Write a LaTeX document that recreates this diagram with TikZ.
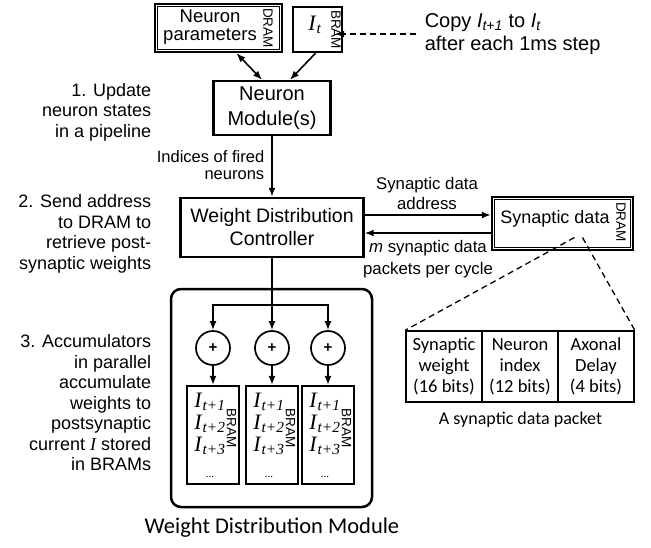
\documentclass[tikz,border=0pt]{standalone}
\usepackage{fontspec}
\setmainfont{Liberation Sans}
\newfontfamily\calib{Carlito}
\newfontfamily\tms{Liberation Serif}
\usetikzlibrary{arrows.meta}

\newcommand\cur[1]{\textit{I}\textsubscript{\textit{#1}}}

\tikzset{
  blk/.style={draw, line width=2.4pt, align=center, inner sep=0pt},
  memlbl/.style={rotate=-90, font=\fontsize{13.5}{14}\selectfont, inner sep=0pt},
  lbl/.style={align=right, anchor=east, font=\fontsize{18}{20.5}\selectfont, inner sep=0pt},
  sum/.style={circle, draw, line width=1.7pt, minimum size=34pt, inner sep=0pt, font=\bfseries\fontsize{15}{15}\selectfont},
  cell/.style={draw, line width=1.5pt, minimum width=76pt, minimum height=71pt, align=center, inner sep=0pt, font=\calib\fontsize{18.5}{21}\selectfont},
}

\begin{document}
\begin{tikzpicture}[x=1pt, y=-1pt, >={Latex[length=9pt,width=7pt]}, line width=1.6pt]
\useasboundingbox (0,0) rectangle (651,547);

\node [blk, minimum width=127pt, minimum height=48pt] (np) at (218.5,28) {};
\draw [line width=1.2pt] ([shift={(4,4)}]np.north west) rectangle ([shift={(-4,-4)}]np.south east);
\node [font=\fontsize{18.5}{17.5}\selectfont, align=center] (nptxt) at (210,27) {Neuron\\parameters};
\node [memlbl] (npmem) at (268,28) {DRAM};

\node [blk, minimum width=49pt, minimum height=45pt] (it) at (317.5,29.5) {};
\node [font=\tms\fontsize{22}{22}\selectfont] (ittxt) at (315,25) {\cur{t}};
\node [memlbl] (itmem) at (336,29.5) {BRAM};

\node [anchor=west, align=left, font=\fontsize{20}{23}\selectfont, inner sep=0pt] (copy) at (424,34) {Copy \cur{t+1} to \cur{t}\\after each 1ms step};
\draw [->, dash pattern=on 6pt off 4pt, line width=1.4pt] ([xshift=-8pt]copy.west) -- ([xshift=-8pt]copy.west -| it.east);

\node [blk, minimum width=117pt, minimum height=54pt, font=\fontsize{20}{24.5}\selectfont] (nm) at (272,108) {Neuron\\Module(s)};
\draw [<->] ([xshift=18pt]np.south) -- ([xshift=-10pt]nm.north);
\draw [->] ([xshift=-2pt]it.south) -- ([xshift=18pt]nm.north);

\node [lbl] (step1) at (152,112) {1. Update\\neuron states\\in a pipeline};

\node [blk, minimum width=183pt, minimum height=59pt, font=\fontsize{19.5}{23}\selectfont] (wdc) at (272,227.5) {Weight Distribution\\Controller};
\draw [->] (nm.south) -- (wdc.north);
\node [font=\fontsize{16.5}{17.5}\selectfont, align=right, anchor=east, inner sep=0pt] (fired) at (265,165) {Indices of fired\\neurons};

\node [lbl] (step2) at (152,234) {2. Send address\\to DRAM to\\retrieve post-\\synaptic weights};

\node [blk, minimum width=141pt, minimum height=53pt] (sd) at (562.5,223.5) {};
\draw [line width=1.2pt] ([shift={(4,4)}]sd.north west) rectangle ([shift={(-4,-4)}]sd.south east);
\node [font=\fontsize{18}{20}\selectfont] (sdtxt) at (555,219) {Synaptic data};
\node [memlbl] (sdmem) at (621,222) {DRAM};

\draw [->] ([yshift=12.5pt]wdc.east) -- ([yshift=12.5pt]wdc.east -| sd.west);
\draw [->] ([yshift=-9.5pt]sd.west) -- ([yshift=-9.5pt]sd.west -| wdc.east);
\node [font=\fontsize{16.8}{20}\selectfont, align=center] (addr) at (427,193) {Synaptic data\\address};
\node [font=\fontsize{16.8}{21.5}\selectfont, align=center] (pkts) at (428,259) {\textit{m} synaptic data\\packets per cycle};

\foreach \n/\x/\t in {pw/444/{Synaptic\\weight\\(16 bits)}, pn/520/{Neuron\\index\\(12 bits)}, pd/596/{Axonal\\Delay\\(4 bits)}}
  \node [cell] (\n) at (\x,366.5) {\t};
\node [font=\calib\fontsize{18}{20}\selectfont] (pktcap) at (520.5,420) {A synaptic data packet};
\draw [dash pattern=on 6pt off 4pt, line width=1.3pt] ([shift={(12,14)}]sd.center) -- (pw.north west);
\draw [dash pattern=on 6pt off 4pt, line width=1.3pt] ([shift={(20,14)}]sd.center) -- (pd.north east);

\node [draw, line width=2.5pt, rounded corners=10pt, minimum width=201pt, minimum height=218pt] (wdm) at (271.5,398) {};
\node [font=\calib\fontsize{22.5}{24}\selectfont] (wdmcap) at (272,528) {Weight Distribution Module};

\coordinate (split) at (272,305);
\foreach \c/\x in {1/213,2/272,3/328} {
  \node [sum] (sum\c) at (\x,348) {+};
  \node [blk, line width=2.2pt, minimum width=52pt, minimum height=98pt] (bram\c) at (\x,435) {};
  \node [font=\tms\fontsize{22}{22}\selectfont, align=center] (cur\c) at (\x-3,435) {\cur{t+1}\\\cur{t+2}\\\cur{t+3}\\[4pt]{\fontsize{11}{11}\selectfont ...}};
  \node [memlbl] (mem\c) at (\x+18.5,428) {BRAM};
  \draw [->] (sum\c.south) -- (bram\c.north);
}
\draw [->] (wdc.south) -- (sum2.north);
\draw [->] (split) -| (sum1.north);
\draw [->] (split) -| (sum3.north);

\node [lbl] (step3) at (152,403) {3. Accumulators\\in parallel\\accumulate\\weights to\\postsynaptic\\current {\tms\itshape I} stored\\in BRAMs};

\end{tikzpicture}
\end{document}
